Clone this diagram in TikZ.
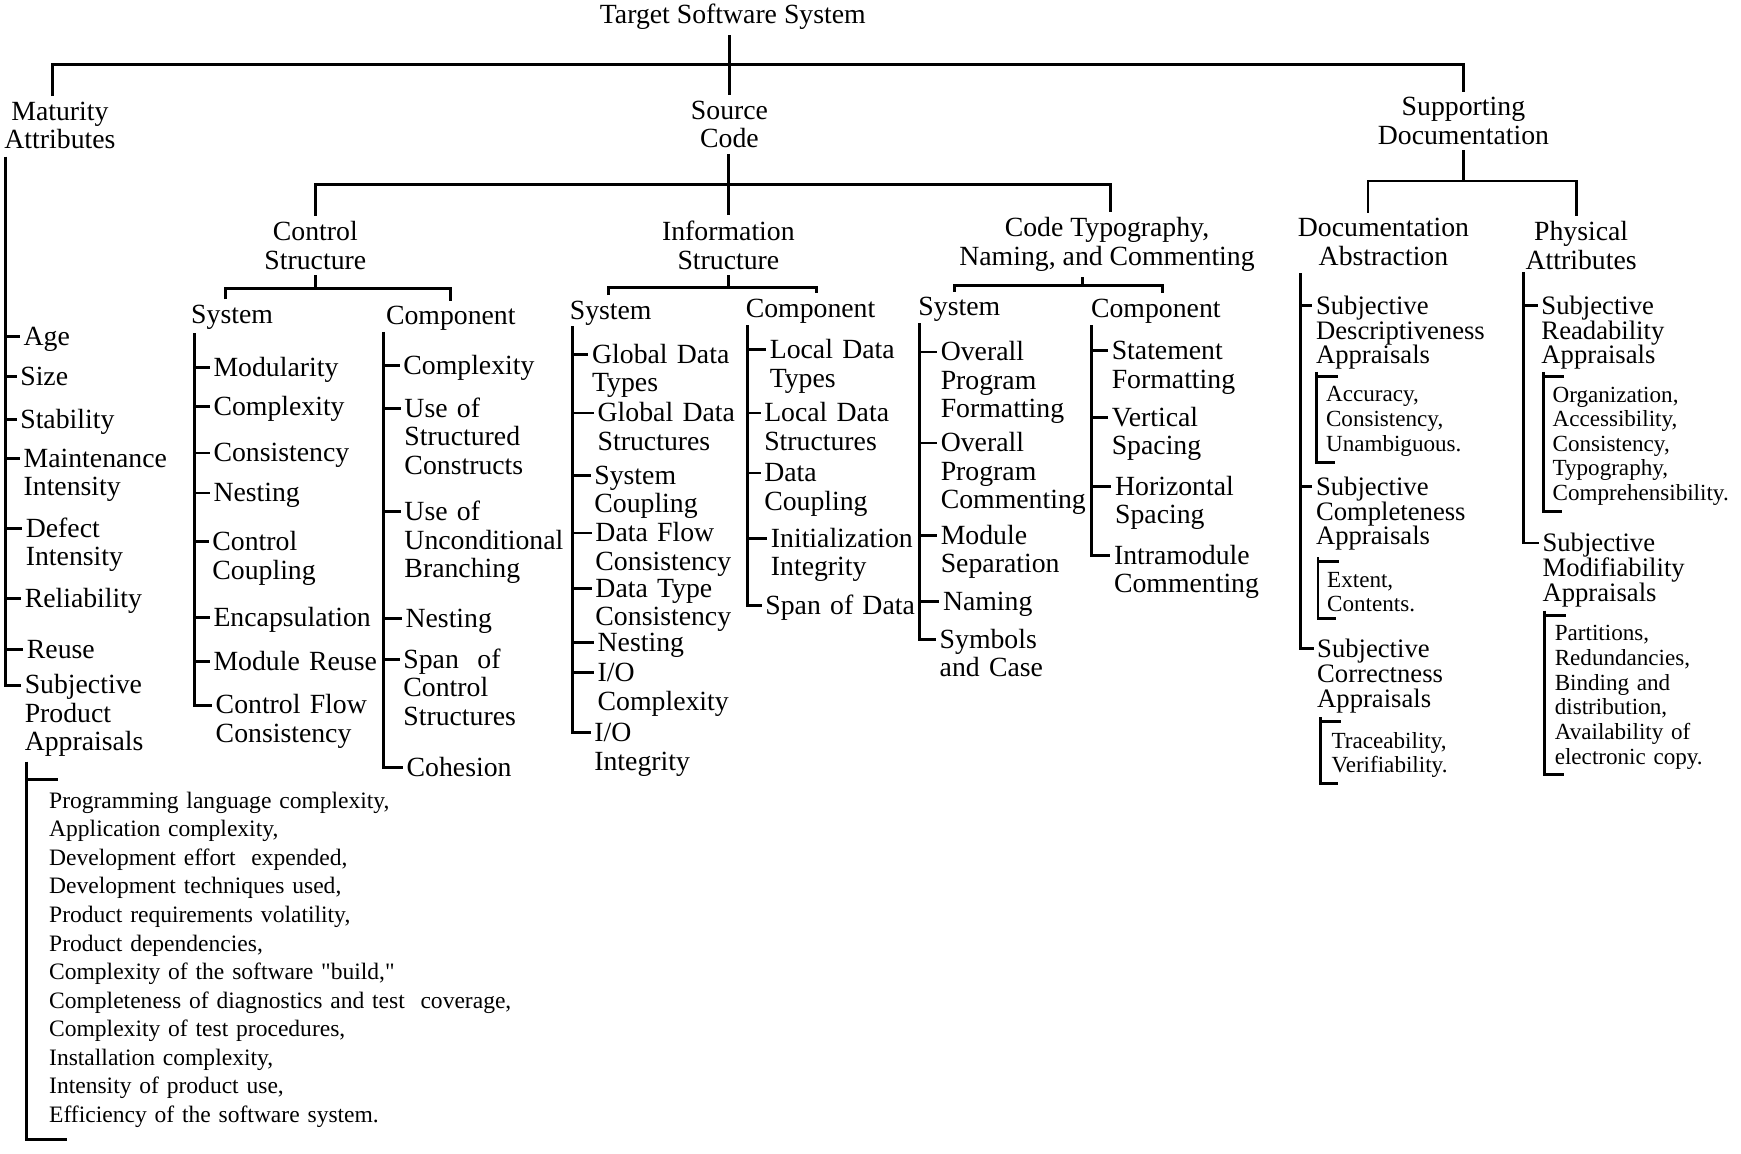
\documentclass[tikz,border=0pt]{standalone}
\usepackage{fontspec}
\setmainfont{Liberation Serif}
\usepackage{tikz}
\usetikzlibrary{positioning}

\begin{document}
\begin{tikzpicture}[x=0.5pt, y=-0.5pt,
    line width=1.3pt,
    every node/.style={font=\fontsize{12.5}{12.8}\selectfont},
    head/.style={align=center, inner sep=2pt},
    leaf/.style={anchor=base west, align=left, text width=90pt, inner xsep=1pt, inner ysep=0pt},
    docleaf/.style={leaf, font=\fontsize{12}{11.2}\selectfont},
    details/.style={anchor=north west, align=left, text width=95pt, inner xsep=3.5pt, inner ysep=2pt,
      font=\fontsize{10.4}{11.1}\selectfont}]

  \useasboundingbox (0,0) rectangle (1568,1039);

  % headings
  \node[head] (tss) at (660,15) {Target Software System};
  \node[head] (ma) at (54,113) {Maturity\\Attributes};
  \node[head] (sc) at (657,112) {Source\\Code};
  \node[head] (sd) at (1318,109) {Supporting\\Documentation};
  \node[head] (cs) at (284,221) {Control\\Structure};
  \node[head] (is) at (656,221) {Information\\Structure};
  \node[head] (ct) at (997,220) {Code Typography,\\Naming, and Commenting};
  \node[head] (da) at (1246,218) {Documentation\\Abstraction};
  \node[head] (pa) at (1424,221) {Physical\\Attributes};
  \node[head] (csys) at (209,286) {System};
  \node[head] (ccomp) at (406,287) {Component};
  \node[head] (isys) at (550,282) {System};
  \node[head] (icomp) at (730,280) {Component};
  \node[head] (tsys) at (864,279) {System};
  \node[head] (tcomp) at (1041,280) {Component};

  \coordinate (topbar) at (656,58);
  \coordinate (srcbar) at (656,166);
  \coordinate (sdbar) at (1318,163);
  \coordinate (csbar) at (284,260);
  \coordinate (isbar) at (656,259);
  \coordinate (ctbar) at (975,257);

  \draw ([xshift=-3.5pt]ma.north) |- (topbar) -| (sd.north);
  \draw (sc.north |- tss.south) -- (sc.north);
  \draw (cs.north) |- (srcbar) -| ([xshift=1.5pt]ct.north);
  \draw (is.north |- sc.south) -- (is.north);
  \draw (sd.south) -- (sdbar);
  \draw ([xshift=-7pt]da.north) |- (sdbar) -| ([xshift=-2pt]pa.north);
  \draw (cs.south) -- (csbar);
  \draw ([xshift=-3pt]csys.north) |- (csbar) -| (ccomp.north);
  \draw (is.south) -- (isbar);
  \draw ([xshift=-1pt]isys.north) |- (isbar) -| ([xshift=2.5pt]icomp.north);
  \draw (ctbar |- ct.south) -- (ctbar);
  \draw ([xshift=-2pt]tsys.north) |- (ctbar) -| ([xshift=3pt]tcomp.north);

  % spines
  \coordinate (maS) at (5,141);
  \coordinate (csysS) at (175,300);
  \coordinate (ccompS) at (345,299);
  \coordinate (isysS) at (516,294);
  \coordinate (icompS) at (673,293);
  \coordinate (tsysS) at (828,291);
  \coordinate (tcompS) at (983,293);
  \coordinate (daS) at (1171,246);
  \coordinate (paS) at (1372,245);

  % maturity attributes
  \node[leaf] (m1) at (18,311) {Age};
  \node[leaf] (m2) at (15,347) {Size};
  \node[leaf] (m3) at (15,386) {Stability};
  \node[leaf] (m4) at (18,421) {Maintenance\\Intensity};
  \node[leaf] (m5) at (20,484) {Defect\\Intensity};
  \node[leaf] (m6) at (19,547) {Reliability};
  \node[leaf] (m7) at (21,593) {Reuse};
  \node[leaf] (m8) at (19,625) {Subjective\\Product\\Appraisals};
  \draw (maS) |- ([yshift=4pt]m1.base west) (maS) |- ([yshift=4pt]m2.base west)
        (maS) |- ([yshift=4pt]m3.base west) (maS) |- ([yshift=4pt]m4.base west)
        (maS) |- ([yshift=4pt]m5.base west) (maS) |- ([yshift=4pt]m6.base west)
        (maS) |- ([yshift=4pt]m7.base west) (maS) |- ([yshift=4pt]m8.base west);

  \node[details, text width=230pt, inner xsep=9.5pt, font=\fontsize{10.6}{12.85}\selectfont] (plist) at (24,708)
    {Programming language complexity,\\Application complexity,\\Development effort~ expended,\\
     Development techniques used,\\Product requirements volatility,\\Product dependencies,\\
     Complexity of the software \textquotedbl build,\textquotedbl\\Completeness of diagnostics and test~ coverage,\\
     Complexity of test procedures,\\Installation complexity,\\Intensity of product use,\\
     Efficiency of the software system.};
  \draw ([yshift=11pt]plist.north west) -- ([yshift=-3pt]plist.south west) -- ++(36,0)
        ([yshift=3pt]plist.north west) -- ++(28,0);

  % control structure
  \node[leaf] (cs1) at (189,339) {Modularity};
  \node[leaf] (cs2) at (189,374) {Complexity};
  \node[leaf] (cs3) at (189,416) {Consistency};
  \node[leaf] (cs4) at (189,452) {Nesting};
  \node[leaf] (cs5) at (188,496) {Control\\Coupling};
  \node[leaf] (cs6) at (189,564) {Encapsulation};
  \node[leaf] (cs7) at (189,604) {Module Reuse};
  \node[leaf] (cs8) at (191,643) {Control Flow\\Consistency};
  \draw (csysS) |- ([yshift=4pt]cs1.base west) (csysS) |- ([yshift=4pt]cs2.base west)
        (csysS) |- ([yshift=4pt]cs3.base west) (csysS) |- ([yshift=4pt]cs4.base west)
        (csysS) |- ([yshift=4pt]cs5.base west) (csysS) |- ([yshift=4pt]cs6.base west)
        (csysS) |- ([yshift=4pt]cs7.base west) (csysS) |- ([yshift=4pt]cs8.base west);

  \node[leaf] (cc1) at (360,337) {Complexity};
  \node[leaf] (cc2) at (361,376) {Use of\\Structured\\Constructs};
  \node[leaf] (cc3) at (361,469) {Use of\\Unconditional\\Branching};
  \node[leaf] (cc4) at (362,565) {Nesting};
  \node[leaf] (cc5) at (360,602) {Span~ of\\Control\\Structures};
  \node[leaf] (cc6) at (363,699) {Cohesion};
  \draw (ccompS) |- ([yshift=4pt]cc1.base west) (ccompS) |- ([yshift=4pt]cc2.base west)
        (ccompS) |- ([yshift=4pt]cc3.base west) (ccompS) |- ([yshift=4pt]cc4.base west)
        (ccompS) |- ([yshift=4pt]cc5.base west) (ccompS) |- ([yshift=4pt]cc6.base west);

  % information structure
  \node[leaf] (is1) at (530,327) {Global Data\\Types};
  \node[leaf] (is2) at (535,380) {Global Data\\Structures};
  \node[leaf] (is3) at (532,436) {System\\Coupling};
  \node[leaf] (is4) at (533,488) {Data Flow\\Consistency};
  \node[leaf] (is5) at (533,538) {Data Type\\Consistency};
  \node[leaf] (is6) at (535,587) {Nesting};
  \node[leaf] (is7) at (535,614) {I/O\\Complexity};
  \node[leaf] (is8) at (532,668) {I/O\\Integrity};
  \draw (isysS) |- ([yshift=4pt]is1.base west) (isysS) |- ([yshift=4pt]is2.base west)
        (isysS) |- ([yshift=4pt]is3.base west) (isysS) |- ([yshift=4pt]is4.base west)
        (isysS) |- ([yshift=4pt]is5.base west) (isysS) |- ([yshift=4pt]is6.base west)
        (isysS) |- ([yshift=4pt]is7.base west) (isysS) |- ([yshift=4pt]is8.base west);

  \node[leaf] (ic1) at (690,323) {Local Data\\Types};
  \node[leaf] (ic2) at (685,380) {Local Data\\Structures};
  \node[leaf] (ic3) at (685,434) {Data\\Coupling};
  \node[leaf] (ic4) at (691,493) {Initialization\\Integrity};
  \node[leaf] (ic5) at (686,553) {Span of Data};
  \draw (icompS) |- ([yshift=4pt]ic1.base west) (icompS) |- ([yshift=4pt]ic2.base west)
        (icompS) |- ([yshift=4pt]ic3.base west) (icompS) |- ([yshift=4pt]ic4.base west)
        (icompS) |- ([yshift=4pt]ic5.base west);

  % code typography
  \node[leaf] (ts1) at (844,325) {Overall\\Program\\Formatting};
  \node[leaf] (ts2) at (844,407) {Overall\\Program\\Commenting};
  \node[leaf] (ts3) at (844,490) {Module\\Separation};
  \node[leaf] (ts4) at (846,550) {Naming};
  \node[leaf] (ts5) at (843,584) {Symbols\\and Case};
  \draw (tsysS) |- ([yshift=4pt]ts1.base west) (tsysS) |- ([yshift=4pt]ts2.base west)
        (tsysS) |- ([yshift=4pt]ts3.base west) (tsysS) |- ([yshift=4pt]ts4.base west)
        (tsysS) |- ([yshift=4pt]ts5.base west);

  \node[leaf] (tc1) at (998,324) {Statement\\Formatting};
  \node[leaf] (tc2) at (998,384) {Vertical\\Spacing};
  \node[leaf] (tc3) at (1001,446) {Horizontal\\Spacing};
  \node[leaf] (tc4) at (1000,508) {Intramodule\\Commenting};
  \draw (tcompS) |- ([yshift=4pt]tc1.base west) (tcompS) |- ([yshift=4pt]tc2.base west)
        (tcompS) |- ([yshift=4pt]tc3.base west) (tcompS) |- ([yshift=4pt]tc4.base west);

  % documentation abstraction
  \node[docleaf] (da1) at (1182,283) {Subjective\\Descriptiveness\\Appraisals};
  \node[docleaf] (da2) at (1182,446) {Subjective\\Completeness\\Appraisals};
  \node[docleaf] (da3) at (1183,592) {Subjective\\Correctness\\Appraisals};
  \draw (daS) |- ([yshift=4pt]da1.base west) (daS) |- ([yshift=4pt]da2.base west)
        (daS) |- ([yshift=4pt]da3.base west);

  \node[details] (acc) at (1186,343) {Accuracy,\\Consistency,\\Unambiguous.};
  \node[details] (ext) at (1187,510) {Extent,\\Contents.};
  \node[details, inner xsep=4.5pt] (tra) at (1189,654) {Traceability,\\Verifiability.};
  \draw ([yshift=4pt]acc.north west) -- (acc.south west) -- ++(16,0)
        ([yshift=2pt]acc.north west) -- ++(19,0);
  \draw ([yshift=4pt]ext.north west) -- (ext.south west) -- ++(16,0)
        ([yshift=2pt]ext.north west) -- ++(19,0);
  \draw ([yshift=4pt]tra.north west) -- (tra.south west) -- ++(16,0)
        ([yshift=2pt]tra.north west) -- ++(19,0);

  % physical attributes
  \node[docleaf] (pa1) at (1385,283) {Subjective\\Readability\\Appraisals};
  \node[docleaf] (pa2) at (1386,497) {Subjective\\Modifiability\\Appraisals};
  \draw (paS) |- ([yshift=4pt]pa1.base west) (paS) |- ([yshift=4pt]pa2.base west);

  \node[details] (org) at (1390,343) {Organization,\\Accessibility,\\Consistency,\\Typography,\\Comprehensibility.};
  \node[details, inner xsep=4pt] (par) at (1391,558) {Partitions,\\Redundancies,\\Binding and\\distribution,\\Availability of\\electronic copy.};
  \draw ([yshift=4pt]org.north west) -- (org.south west) -- ++(17,0)
        ([yshift=2pt]org.north west) -- ++(19,0);
  \draw ([yshift=4pt]par.north west) -- (par.south west) -- ++(18,0)
        ([yshift=2pt]par.north west) -- ++(19,0);
\end{tikzpicture}
\end{document}
